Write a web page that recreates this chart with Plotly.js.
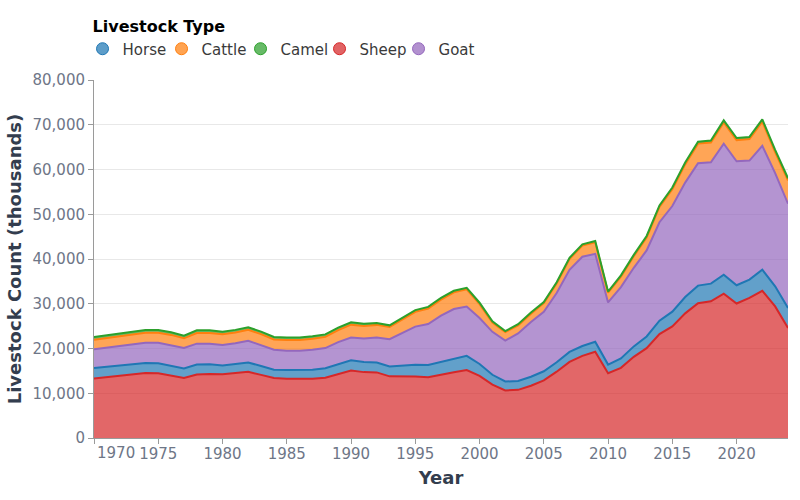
<!DOCTYPE html>
<html>
<head>
<meta charset="utf-8">
<script src="https://cdn.plot.ly/plotly-3.0.1.min.js"></script>
<style>
  body { margin: 0; background: #fff; }
  #chart { width: 800px; height: 500px; }
</style>
</head>
<body>
<div id="chart"></div>
<script>
//------------INPUT DATA------------
// livestock head count, thousands
const years = [
  1970, 1971, 1972, 1973, 1974, 1975, 1976, 1977, 1978, 1979,
  1980, 1981, 1982, 1983, 1984, 1985, 1986, 1987, 1988, 1989,
  1990, 1991, 1992, 1993, 1994, 1995, 1996, 1997, 1998, 1999,
  2000, 2001, 2002, 2003, 2004, 2005, 2006, 2007, 2008, 2009,
  2010, 2011, 2012, 2013, 2014, 2015, 2016, 2017, 2018, 2019,
  2020, 2021, 2022, 2023, 2024,
];
const sheep = [
  13312, 13600, 13900, 14200, 14500, 14458, 14000, 13400, 14200, 14300,
  14231, 14500, 14800, 14100, 13400, 13249, 13200, 13250, 13450, 14266,
  15083, 14721, 14657, 13779, 13787, 13719, 13561, 14166, 14694, 15191,
  13876, 11937, 10637, 10756, 11686, 12884, 14815, 16990, 18362, 19275,
  14480, 15669, 18141, 20066, 23215, 24943, 27857, 30110, 30555, 32267,
  30049, 31300, 32900, 29400, 24600,
];
const horse = [
  2318, 2320, 2300, 2280, 2260, 2252, 2220, 2160, 2240, 2160,
  1985, 2000, 2090, 1990, 1860, 1971, 1980, 2010, 2150, 2200,
  2262, 2259, 2200, 2190, 2409, 2648, 2771, 2893, 3059, 3164,
  2661, 2192, 1989, 1969, 2005, 2029, 2115, 2240, 2187, 2221,
  1920, 2113, 2330, 2619, 2996, 3295, 3636, 3940, 3940, 4221,
  4092, 4100, 4700, 4500, 4450,
];
const goat = [
  4204, 4250, 4300, 4400, 4500, 4566, 4520, 4540, 4640, 4620,
  4567, 4650, 4840, 4700, 4470, 4299, 4300, 4450, 4500, 4959,
  5126, 5250, 5603, 6107, 7241, 8521, 9135, 10265, 11062, 11034,
  10270, 9591, 9135, 10653, 12238, 13267, 15452, 18348, 19969, 19652,
  13883, 15935, 17559, 19228, 22009, 23593, 25575, 27347, 27134, 29262,
  27702, 26600, 27700, 25300, 23300,
];
const cattle = [
  2108, 2150, 2200, 2230, 2260, 2245, 2300, 2180, 2380, 2390,
  2397, 2420, 2430, 2420, 2300, 2408, 2400, 2450, 2500, 2693,
  2849, 2822, 2819, 2731, 3005, 3317, 3476, 3613, 3726, 3825,
  3098, 2070, 1884, 1793, 1842, 1964, 2168, 2426, 2503, 2599,
  2176, 2340, 2585, 2910, 3414, 3780, 4081, 4389, 4381, 4755,
  4723, 4800, 5400, 4700, 5200,
];
const camel = [
  634, 630, 625, 620, 615, 610, 605, 600, 598, 595,
  592, 590, 580, 570, 565, 559, 555, 553, 550, 558,
  538, 476, 415, 367, 367, 368, 359, 355, 357, 356,
  323, 285, 253, 257, 257, 254, 254, 261, 266, 277,
  270, 280, 306, 322, 349, 368, 401, 434, 460, 472,
  460, 473, 500, 500, 500,
];
// legend order of the reference
const legendNames = ["Horse", "Cattle", "Camel", "Sheep", "Goat"];
const xTickVals = [1970, 1975, 1980, 1985, 1990, 1995, 2000, 2005, 2010, 2015, 2020];
const xTickText = ["", "1975", "1980", "1985", "1990", "1995", "2000", "2005", "2010", "2015", "2020"];
//------------END INPUT DATA------------

const COLORS = {
  Horse: "31,119,180",
  Cattle: "255,127,14",
  Camel: "44,160,44",
  Sheep: "214,39,40",
  Goat: "148,103,189",
};
const FONT = "DejaVu Sans, Verdana, sans-serif";
const TICK_COLOR = "#6e7687";
const TITLE_COLOR = "#333d4e";

// stacked area, bottom to top
function areaTrace(name, values) {
  return {
    x: years,
    y: values,
    name: name,
    type: "scatter",
    mode: "lines",
    stackgroup: "one",
    line: { color: "rgb(" + COLORS[name] + ")", width: 2 },
    fillcolor: "rgba(" + COLORS[name] + ",0.7)",
    hoverinfo: "none",
    showlegend: false,
  };
}

// legend entries drawn as circles
function legendTrace(name) {
  return {
    x: [null],
    y: [null],
    name: name,
    type: "scatter",
    mode: "markers",
    marker: {
      size: 12,
      color: "rgba(" + COLORS[name] + ",0.72)",
      line: { color: "rgb(" + COLORS[name] + ")", width: 1 },
    },
    hoverinfo: "none",
  };
}

const data = [
  areaTrace("Sheep", sheep),
  areaTrace("Horse", horse),
  areaTrace("Goat", goat),
  areaTrace("Cattle", cattle),
  areaTrace("Camel", camel),
].concat(legendNames.map(legendTrace));

const layout = {
  width: 800,
  height: 500,
  margin: { t: 80, b: 62, l: 94, r: 12 },
  paper_bgcolor: "#fff",
  plot_bgcolor: "#fff",
  font: { family: FONT, size: 15, color: TICK_COLOR },
  showlegend: true,
  legend: {
    orientation: "h",
    traceorder: "normal",
    x: -0.005,
    xanchor: "left",
    y: 1.04,
    yanchor: "bottom",
    itemwidth: 30,
    indentation: -8,
    entrywidth: 42,
    font: { family: FONT, size: 15, color: "#3a3a3a" },
    title: {
      text: "Livestock Type",
      side: "top",
      font: { family: FONT, size: 16, color: "#000", weight: "bold" },
    },
  },
  xaxis: {
    range: [1970, 2024],
    tickvals: xTickVals,
    ticktext: xTickText,
    ticks: "outside",
    ticklen: 5,
    tickcolor: "#9a9a9a",
    ticklabelstandoff: -3,
    showgrid: false,
    showline: true,
    linecolor: "#9a9a9a",
    zeroline: false,
    tickfont: { family: FONT, size: 15, color: TICK_COLOR },
    title: {
      text: "Year",
      standoff: 9,
      font: { family: FONT, size: 18, color: TITLE_COLOR, weight: "bold" },
    },
  },
  yaxis: {
    range: [0, 80000],
    dtick: 10000,
    tickformat: ",d",
    ticks: "outside",
    ticklen: 5,
    tickcolor: "#9a9a9a",
    showgrid: true,
    gridcolor: "#e8e8e8",
    showline: true,
    linecolor: "#9a9a9a",
    zeroline: false,
    tickfont: { family: FONT, size: 15, color: TICK_COLOR },
    title: {
      text: "Livestock Count (thousands)",
      standoff: 6,
      font: { family: FONT, size: 18, color: TITLE_COLOR, weight: "bold" },
    },
  },
  annotations: [
    {
      // first year label sits flush with the axis start
      x: 1970,
      xref: "x",
      y: 0,
      yref: "paper",
      yshift: -15,
      xshift: 1,
      xanchor: "left",
      yanchor: "middle",
      showarrow: false,
      text: "1970",
      font: { family: FONT, size: 15, color: TICK_COLOR },
    },
  ],
};

Plotly.newPlot("chart", data, layout, { displayModeBar: false, staticPlot: true });
</script>
</body>
</html>
